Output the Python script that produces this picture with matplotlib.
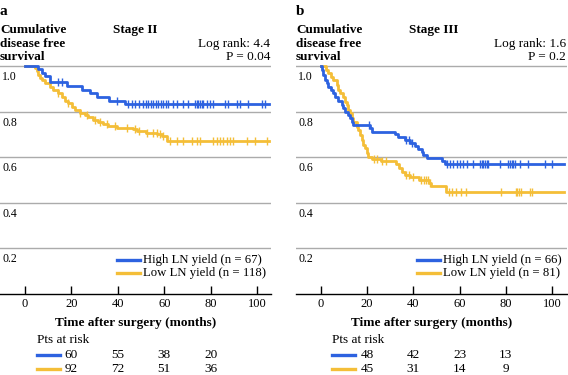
import numpy as np
import matplotlib
matplotlib.use("Agg")
import matplotlib.pyplot as plt

plt.rcParams['font.family'] = ['Liberation Serif', 'DejaVu Serif']

W, H = 568, 375
BLUE = '#2D62E0'
YELLOW = '#F4BE38'
GRID = '#ABABAB'

# ---------------- data: panel a (Stage II) ----------------
a_high_t = [0, 5.5, 7.2, 8.5, 10.8, 18, 24.4, 28, 31, 36, 43, 105]
a_high_s = [1.0, 0.985, 0.970, 0.955, 0.930, 0.912, 0.896, 0.882, 0.866, 0.848, 0.833, 0.833]
a_high_c = [14.4, 15.8, 39.5, 44.5, 46, 47.4, 48.9, 51, 52.2, 53.2, 54.2, 55.3, 56.4, 57.5, 58.5,
            59.6, 60.8, 61.8, 63.9, 65.4, 68.2, 70.4, 73.3, 74, 74.7, 75.4, 76.2, 76.8, 78.3,
            79.7, 81.2, 86.2, 87.6, 91.2, 92.7, 96.3, 102, 103.4]
a_low_t = [0, 4.3, 5.0, 5.7, 6.5, 7.2, 8.6, 10.8, 12.2, 14.4, 15.8, 17.2, 18.7, 20.1, 21.6,
           23.7, 25.9, 27.3, 29.4, 31.6, 33.8, 35.9, 39.5, 46.7, 48.1, 52, 57, 59, 61, 105]
a_low_s = [1.0, 0.990, 0.978, 0.961, 0.946, 0.939, 0.924, 0.909, 0.895, 0.880, 0.863, 0.848,
           0.836, 0.822, 0.807, 0.795, 0.785, 0.775, 0.763, 0.753, 0.746, 0.738, 0.730, 0.722,
           0.716, 0.708, 0.700, 0.693, 0.673, 0.673]
a_low_c = [14.4, 18.7, 23.7, 26.6, 30.2, 32.3, 35.2, 38.8, 43.8, 47.4, 48.9, 52.5, 55.3, 56.8,
           58.2, 59.6, 62.5, 65.4, 68.2, 71.8, 74, 75.4, 81.2, 82.6, 84.1, 85.5, 87, 88.4,
           89.8, 95.5, 99.1, 104.2]

# ---------------- data: panel b (Stage III) ----------------
b_high_t = [0, 0.4, 1.1, 1.9, 2.6, 3.3, 4.3, 5.4, 6.2, 7.6, 9.1, 9.8, 10.5, 11.9, 12.7, 13.4,
            14.1, 21.3, 22, 32.1, 33.5, 36.4, 38.6, 40.7, 42.2, 43.6, 44.3, 45.8, 52.3, 53.8, 105]
b_high_s = [1.0, 0.982, 0.961, 0.939, 0.924, 0.909, 0.895, 0.880, 0.863, 0.848, 0.829, 0.814,
            0.800, 0.785, 0.771, 0.756, 0.741, 0.727, 0.712, 0.702, 0.690, 0.675, 0.661, 0.649,
            0.637, 0.624, 0.610, 0.595, 0.583, 0.569, 0.569]
b_high_c = [21.0, 37.0, 38.0, 39.5, 54.4, 55.9, 57.3, 58.8, 60.2, 61.6, 63.1, 65.9, 68.8,
            69.5, 70.2, 71.0, 71.7, 72.4, 77.5, 81.1, 81.8, 82.5, 83.2, 84.0, 86.2, 89.6,
            96.9, 99.8]
b_low_t = [0, 2.5, 3.3, 4.3, 5.4, 6.9, 7.6, 8.3, 9.8, 10.5, 11.2, 11.9, 12.7, 13.4, 14.1,
           15.6, 16.2, 17.0, 17.7, 18.4, 19.1, 19.9, 20.6, 22, 26, 32.5, 33.8, 35, 36.4,
           38.5, 42.5, 46.8, 47.5, 54.3, 105]
b_low_s = [1.0, 0.982, 0.968, 0.953, 0.939, 0.917, 0.895, 0.880, 0.866, 0.844, 0.829, 0.807,
           0.793, 0.771, 0.756, 0.734, 0.719, 0.697, 0.675, 0.654, 0.639, 0.617, 0.602, 0.593,
           0.585, 0.570, 0.551, 0.536, 0.522, 0.512, 0.500, 0.485, 0.474, 0.449, 0.449]
b_low_c = [23.0, 24.5, 26.5, 28.0, 37.0, 38.0, 40.0, 43.5, 44.5, 45.5, 46.5, 47.3, 55.4,
           56.9, 58.3, 60.5, 62.6, 77.8, 84.2, 85.0, 85.7, 86.4, 90.5, 91.3]

xticks = [0, 20, 40, 60, 80, 100]
yticks = [0.2, 0.4, 0.6, 0.8, 1.0]
risk_times = [20, 40, 60, 80]
a_risk_high = [60, 55, 38, 20]
a_risk_low = [92, 72, 51, 36]
b_risk_high = [48, 42, 23, 13]
b_risk_low = [45, 31, 14, 9]

panels = [
    dict(label='a', stage='Stage II', lr='Log rank: 4.4', p='P = 0.04',
         left=0, right=271, xlim=(-10.8, 106),
         high=(a_high_t, a_high_s, a_high_c), low=(a_low_t, a_low_s, a_low_c),
         n_high=67, n_low=118, rh=a_risk_high, rl=a_risk_low),
    dict(label='b', stage='Stage III', lr='Log rank: 1.6', p='P = 0.2',
         left=296, right=567, xlim=(-10.67, 106.4),
         high=(b_high_t, b_high_s, b_high_c), low=(b_low_t, b_low_s, b_low_c),
         n_high=66, n_low=81, rh=b_risk_high, rl=b_risk_low),
]

fig = plt.figure(figsize=(W / 100, H / 100), dpi=100)

def fx(px):
    return px / W

def fy(py):
    return 1 - py / H

Y0, Y1 = 294, 66  # pixel rows of S=0 and S=1
YTOP = 1.02
top_px = Y0 - (Y0 - Y1) * YTOP

for P in panels:
    ax = fig.add_axes([fx(P['left']), fy(Y0), fx(P['right'] - P['left']), (Y0 - top_px) / H])
    ax.set_xlim(*P['xlim'])
    ax.set_ylim(0, YTOP)
    for s in ['top', 'right', 'left']:
        ax.spines[s].set_visible(False)
    ax.spines['bottom'].set_linewidth(1.0)
    ax.set_yticks([])
    ax.set_xticks(xticks)
    ax.tick_params(axis='x', direction='in', length=6, width=1, pad=3, labelsize=9)
    for yv in yticks:
        ax.axhline(yv, color=GRID, lw=1.0, zorder=1)
        ax.text(0.008, yv - 0.022, f'{yv:.1f}', transform=ax.get_yaxis_transform(),
                ha='left', va='top', fontsize=8.5)
    for key, col in [('low', YELLOW), ('high', BLUE)]:
        t, s, c = P[key]
        ax.step(t, s, where='post', color=col, lw=2.0, zorder=3, clip_on=False)
        idx = np.searchsorted(t, c, side='right') - 1
        cy = np.asarray(s)[idx]
        ax.plot(c, cy, ls='none', marker='|', ms=5.5, mew=1.0, color=col, zorder=3)

    L, R = P['left'], P['right']
    # legend (right aligned texts)
    lx0 = L + (117 if P['label'] == 'a' else 121)
    for i, (col, name, n) in enumerate([(BLUE, 'High LN yield', P['n_high']),
                                         (YELLOW, 'Low LN yield', P['n_low'])]):
        yy = 260 + i * 13.3
        fig.add_artist(plt.Line2D([fx(lx0), fx(lx0 + 23)], [fy(yy), fy(yy)], color=col, lw=2.4))
        fig.text(fx(lx0 + 26), fy(yy), f'{name} (n = {n})', ha='left', va='center',
                 fontsize=9.2)

    # header texts
    fig.text(fx(L), fy(11.5), P['label'], ha='left', va='center', fontsize=11, fontweight='bold')
    for j, line in enumerate(['Cumulative', 'disease free', 'survival']):
        fig.text(fx(L), fy(30 + j * 13.7), line, ha='left', va='center', fontsize=9.5,
                 fontweight='bold')
    fig.text(fx(L + 113), fy(30), P['stage'], ha='left', va='center', fontsize=9.5,
             fontweight='bold')
    fig.text(fx(R - 1), fy(43.5), P['lr'], ha='right', va='center', fontsize=9.5)
    fig.text(fx(R - 1), fy(57.5), P['p'], ha='right', va='center', fontsize=9.5)
    fig.text(fx((L + R) / 2), fy(323), 'Time after surgery (months)', ha='center',
             va='center', fontsize=9.5, fontweight='bold')

    # numbers at risk
    def tx(t):
        x0, x1 = P['xlim']
        return L + (t - x0) / (x1 - x0) * (R - L)
    rx = tx(5)
    fig.text(fx(rx), fy(340), 'Pts at risk', ha='left', va='center', fontsize=9.5)
    for i, (col, vals) in enumerate([(BLUE, P['rh']), (YELLOW, P['rl'])]):
        yy = 354.5 + i * 14
        fig.add_artist(plt.Line2D([fx(rx), fx(rx + 23)], [fy(yy), fy(yy)], color=col, lw=2.4))
        for t, v in zip(risk_times, vals):
            fig.text(fx(tx(t)), fy(yy), str(v), ha='center', va='center', fontsize=9.5)

fig.savefig('out.png', dpi=100)
